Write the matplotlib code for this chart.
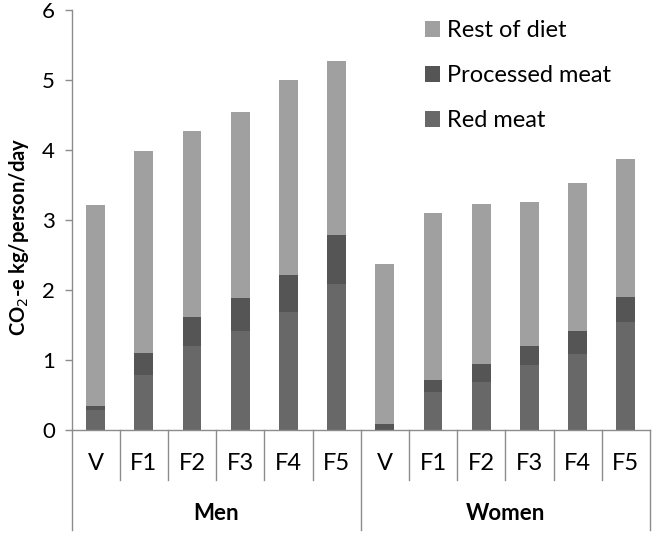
import matplotlib
matplotlib.use("Agg")
import matplotlib.pyplot as plt
from matplotlib.lines import Line2D
import numpy as np

plt.rcParams['font.family'] = ['Lato', 'DejaVu Sans']

groups = ["Men", "Women"]
categories = ["V", "F1", "F2", "F3", "F4", "F5", "V", "F1", "F2", "F3", "F4", "F5"]
red_meat = [0.28, 0.78, 1.20, 1.41, 1.68, 2.09, 0.00, 0.54, 0.68, 0.93, 1.09, 1.54]
processed_meat = [0.06, 0.32, 0.41, 0.47, 0.53, 0.70, 0.09, 0.17, 0.27, 0.27, 0.32, 0.36]
totals = [3.21, 3.99, 4.27, 4.54, 5.00, 5.27, 2.37, 3.10, 3.23, 3.26, 3.53, 3.87]
rest_of_diet = [t - r - p for t, r, p in zip(totals, red_meat, processed_meat)]
yticks = [0, 1, 2, 3, 4, 5, 6]

c_rest = "#a0a0a0"
c_proc = "#555555"
c_red = "#686868"
axis_col = "#8c8c8c"

W, H = 654, 534
fig = plt.figure(figsize=(W / 100, H / 100), dpi=100)
x0, x1, y0, y1 = 71.5, 650, 430, 10
ax = fig.add_axes([x0 / W, 1 - y0 / H, (x1 - x0) / W, (y0 - y1) / H])

x = np.arange(len(categories))
bw = 0.39
red_arr = np.array(red_meat)
proc_arr = np.array(processed_meat)
rest_arr = np.array(rest_of_diet)
b_red = ax.bar(x, red_arr, bw, color=c_red, label="Red meat")
b_proc = ax.bar(x, proc_arr, bw, bottom=red_arr, color=c_proc, label="Processed meat")
b_rest = ax.bar(x, rest_arr, bw, bottom=red_arr + proc_arr, color=c_rest, label="Rest of diet")

ax.set_xlim(-0.5, len(categories) - 0.5)
ax.set_ylim(0, 6)
ax.set_yticks(yticks)
ax.set_yticklabels([str(v) for v in yticks], fontsize=16)
ax.set_xticks([])
for s in ["top", "right"]:
    ax.spines[s].set_visible(False)
for s in ["left", "bottom"]:
    ax.spines[s].set_color(axis_col)
    ax.spines[s].set_linewidth(1.0)
ax.tick_params(axis="y", length=5, width=1.0, color=axis_col, pad=7, labelcolor="black")

ax.set_ylabel("CO$_2$-e kg/person/day", fontsize=14.5, fontweight="bold", labelpad=8)
ax.yaxis.label.set_y(0.46)

trans = ax.get_xaxis_transform()
cat_drop = (480 - 430) / (y0 - y1)
grp_drop = (530 - 430) / (y0 - y1)
n = len(categories)
for i in range(n + 1):
    pos = i - 0.5
    is_group = (i % 6 == 0)
    depth = grp_drop if is_group else cat_drop
    ax.add_line(Line2D([pos, pos], [0, -depth], transform=trans, color=axis_col,
                       lw=1.0, clip_on=False))
for i, c in enumerate(categories):
    ax.text(i, -(464 - 430) / (y0 - y1), c, transform=trans, ha="center", va="center",
            fontsize=17)
for g, name in enumerate(groups):
    ax.text(g * 6 + 2.5, -(513 - 430) / (y0 - y1), name, transform=trans, ha="center",
            va="center", fontsize=16, fontweight="bold")

handles = [b_rest, b_proc, b_red]
ax.legend(handles, [h.get_label() for h in handles], loc="upper left",
          bbox_to_anchor=(425 / W, 1 - 20 / H), bbox_transform=fig.transFigure,
          frameon=False, fontsize=17, borderpad=0, borderaxespad=0,
          handlelength=0.65, handleheight=0.65, handletextpad=0.3, labelspacing=1.02)

fig.savefig("out.png", dpi=100)
